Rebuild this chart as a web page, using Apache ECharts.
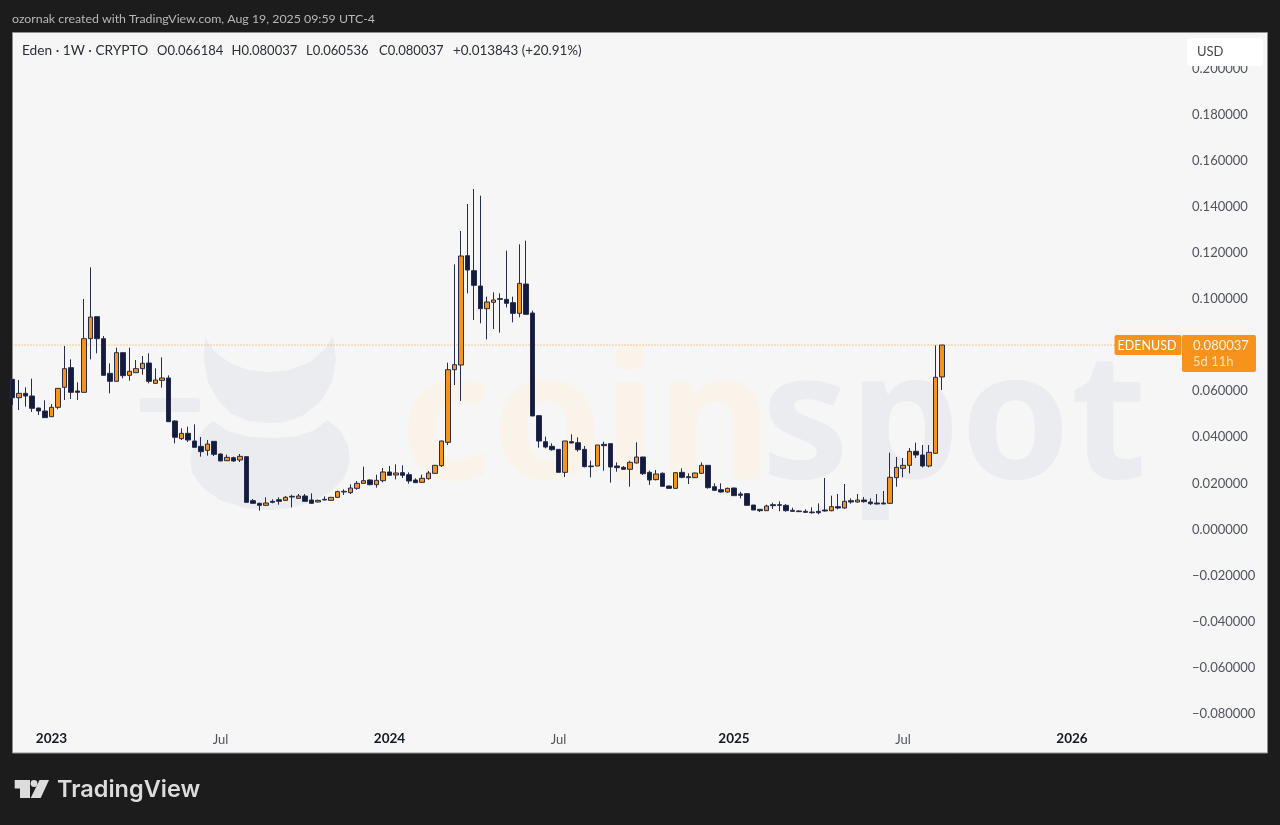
<!DOCTYPE html>
<html>
<head>
<meta charset="utf-8">
<title>Eden 1W</title>
<script src="https://cdn.jsdelivr.net/npm/echarts@6/dist/echarts.min.js"></script>
<style>
html, body { margin: 0; padding: 0; background: #1c1c1c; }
#chart { width: 1280px; height: 825px; }
</style>
</head>
<body>
<div id="chart"></div>
<script>
// weekly candles. first week starts 2022-11-21, last is 2025-08-18
var FIRST_WEEK = Date.UTC(2022, 10, 21);
var WEEK_MS = 7 * 24 * 3600 * 1000;
var TOTAL_WEEKS = 181; // includes the empty weeks right of the last candle

var openPrices = [
    .06515, .05719, .05907, .05792, .05271, .05141, .04895, .053, .06168, .07021,
    .06009, .05951, .08279, .09233, .08279, .06775, .06428, .07672, .06688, .06804,
    .06978, .07223, .06341, .06471, .06573, .04707, .03941, .04172, .03839, .03608,
    .03434, .03825, .03275, .02986, .03116, .03015, .0316, .01251, .01135, .01048,
    .01222, .01294, .01265, .01439, .01352, .01453, .0128, .01193, .01309, .01265,
    .01396, .01656, .01598, .01786, .02003, .02147, .01945, .02119, .02495, .02364,
    .02466, .02379, .02147, .02046, .02205, .02437, .02769, .03782, .06934, .07136,
    .1188, .11229, .10564, .0958, .09855, .10014, .09985, .09841, .09378, .1065,
    .09392, .04938, .0381, .03608, .03478, .0248, .0381, .03767, .03478, .02755,
    .02755, .03695, .03724, .02755, .02697, .0261, .02885, .03145, .0248, .02162,
    .02437, .01887, .01786, .0248, .02292, .02249, .02437, .02784, .01858, .01728,
    .01627, .018, .0154, .01555, .01063, .00875, .00817, .01077, .01077, .01048,
    .00832, .00803, .00788, .00759, .00788, .00846, .00817, .00991, .00933, .01251,
    .01193, .0128, .01193, .0115, .0115, .01135, .02249, .02654, .02784, .03391,
    .03232, .02755, .03304, .066184
];
var closePrices = [
    .05719, .05907, .05792, .05257, .05141, .04852, .053, .06124, .06978, .05951,
    .05951, .08279, .09219, .08279, .06688, .06428, .07672, .06674, .06862, .06978,
    .07209, .06428, .06486, .06573, .04678, .03999, .04172, .03883, .03565, .03377,
    .03709, .03261, .02972, .03131, .02972, .03174, .01179, .01135, .01048, .0115,
    .01179, .01222, .01396, .0141, .01453, .01222, .01135, .01265, .0128, .01396,
    .01641, .01627, .018, .02003, .02119, .01945, .02133, .02495, .0235, .02451,
    .0235, .02104, .02032, .0222, .02451, .02784, .03839, .06934, .07151, .11865,
    .11258, .10593, .0958, .0987, .09956, .09985, .09812, .09378, .10679, .09335,
    .04924, .03839, .03579, .03463, .0248, .03839, .03753, .03463, .02726, .02726,
    .03666, .03637, .02712, .02683, .0261, .02914, .03145, .02422, .02147, .02408,
    .01873, .01786, .02466, .02263, .02249, .02451, .02784, .01815, .01699, .01627,
    .01786, .01468, .01482, .01048, .00846, .00817, .0102, .01034, .01048, .00817,
    .00788, .00774, .00745, .0073, .0073, .00803, .00991, .00933, .01222, .01193,
    .0128, .01208, .01121, .01106, .01106, .02263, .02697, .02784, .03391, .03232,
    .02755, .03348, .06602, .080037
];
var lowPrices = [
    .05401, .05184, .05329, .05098, .04967, .04852, .04895, .05213, .05618, .05661,
    .05618, .05951, .07382, .07643, .06688, .05907, .06428, .06558, .06457, .06804,
    .06717, .06341, .06341, .06153, .04678, .03738, .03883, .03796, .03565, .0316,
    .03203, .03189, .02972, .02972, .02943, .02928, .01179, .01135, .00817, .0102,
    .01135, .01077, .01236, .00962, .01323, .01208, .01121, .01179, .01265, .01251,
    .01367, .01497, .0154, .01728, .01988, .01916, .01815, .02046, .02335, .02176,
    .02234, .01988, .02032, .02032, .02162, .02408, .02712, .03666, .06269, .05575,
    .10246, .09089, .08944, .0825, .08698, .08539, .09638, .08987, .09204, .09335,
    .04924, .0355, .03521, .0342, .0248, .02278, .03738, .03377, .02697, .02263,
    .02755, .02552, .02032, .02509, .02596, .01858, .0287, .02364, .01931, .02133,
    .01858, .01757, .01757, .0222, .01974, .02234, .02422, .01771, .0167, .01598,
    .01598, .01453, .01352, .01034, .00846, .00759, .00803, .00889, .00788, .00774,
    .00759, .00774, .00716, .00687, .00658, .00774, .00788, .00875, .00904, .01121,
    .01164, .01164, .01063, .01092, .01106, .01106, .01858, .02263, .02437, .03102,
    .02697, .02697, .03304, .060536
];
var highPrices = [
    .06515, .06486, .06168, .06544, .05286, .05604, .05445, .06124, .07961, .07382,
    .06385, .1, .11374, .09233, .08395, .07209, .07888, .07672, .07888, .07353,
    .07527, .07643, .06992, .07469, .06688, .04736, .04389, .04461, .04562, .04013,
    .03883, .03825, .03304, .03246, .0316, .03275, .0316, .01323, .01164, .01396,
    .01309, .01396, .01453, .01511, .0154, .0154, .01569, .01294, .01439, .0141,
    .01685, .01743, .01959, .02104, .02726, .02176, .02379, .02668, .02755, .02827,
    .02784, .0248, .0222, .02379, .02538, .02798, .03854, .07238, .11504, .1295,
    .14121, .14772, .14483, .10101, .10289, .10246, .12097, .10101, .12371, .1253,
    .09494, .04967, .04027, .03738, .03478, .03839, .04129, .03999, .03622, .02986,
    .03666, .0381, .03738, .02914, .02755, .02986, .03782, .0316, .02552, .02581,
    .0248, .01902, .02495, .02654, .02437, .02466, .02914, .02784, .02003, .02003,
    .01815, .01815, .01641, .01569, .01063, .00889, .01077, .01164, .01222, .01106,
    .00947, .00832, .00875, .00962, .01135, .02234, .01468, .0154, .01974, .01352,
    .0154, .0141, .01352, .0154, .0167, .03333, .03145, .03102, .03536, .03767,
    .03666, .03666, .0799, .080037
];

var priceTicks = [0.18, 0.16, 0.14, 0.12, 0.10, 0.08, 0.06, 0.04, 0.02, 0, -0.02, -0.04, -0.06, -0.08, 0.20];
var timeTicks = { "2023-01-02": "2023", "2023-07-03": "Jul", "2024-01-01": "2024", "2024-07-01": "Jul",
                  "2025-01-06": "2025", "2025-07-07": "Jul", "2026-01-05": "2026" };
var lastPrice = 0.080037;

var TEXT_FONT = 'Lato, "Open Sans", sans-serif';
var UP_COLOR = "#f7931a";
var DOWN_COLOR = "#131c3f";
var WICK_COLOR = "#262c4a";
var WM_GREY = "#ebecef";
var WM_PEACH = "#f9f3ea";

function weekLabels() {
    var list = [];
    for (var i = 0; i < TOTAL_WEEKS; i++) {
        list.push(new Date(FIRST_WEEK + i * WEEK_MS).toISOString().slice(0, 10));
    }
    return list;
}

function candleRows() {
    var rows = [];
    for (var i = 0; i < openPrices.length; i++) {
        rows.push([openPrices[i], closePrices[i], lowPrices[i], highPrices[i]]);
    }
    return rows;
}

function lastPriceLine() {
    var rows = [];
    for (var i = 0; i < TOTAL_WEEKS; i++) {
        rows.push(lastPrice);
    }
    return rows;
}

function priceLabel(v) {
    var s = Math.abs(v).toFixed(6);
    return v < 0 ? "\u2212" + s : s;
}

function txt(str, x, y, size, color, extra) {
    var style = { text: str, fill: color, font: (extra && extra.weight || "400") + " " + size + "px " + (extra && extra.family || TEXT_FONT),
                  textAlign: extra && extra.align || "left", textVerticalAlign: "middle" };
    return { type: "text", x: x, y: y, z: extra && extra.z !== undefined ? extra.z : 20, silent: true, style: style };
}

function box(x, y, w, h, fill, r, z) {
    return { type: "rect", z: z, silent: true, shape: { x: x, y: y, width: w, height: h, r: r }, style: { fill: fill } };
}

function blob(points, fill, z) {
    return { type: "polygon", z: z, silent: true, shape: { points: points }, style: { fill: fill } };
}

var graphics = [
    // panel
    { type: "rect", z: -3, silent: true, shape: { x: 12.5, y: 32.5, width: 1255, height: 720.5 },
      style: { fill: "#f6f6f6", stroke: "#8f8f8f", lineWidth: 1 } },
    // coinspot watermark
    blob([[205, 338], [215, 352], [230, 363], [248, 370], [268, 372], [290, 370], [310, 362], [325, 349], [333, 336], [336, 360],
          [332, 382], [320, 402], [302, 416], [285, 422], [268, 423], [248, 421], [232, 414], [218, 400], [208, 382], [204, 360]], WM_GREY, -2),
    box(140, 398, 60, 14, WM_GREY, 3, -2),
    blob([[190, 457], [195, 442], [205, 428], [213, 421], [228, 431], [250, 437], [275, 438], [297, 436], [315, 430], [327, 420], [340, 430],
          [348, 445], [350, 460], [345, 477], [330, 492], [310, 503], [290, 508], [270, 510], [245, 508], [220, 500], [203, 488], [192, 473]], WM_GREY, -2),
    txt("coin", 400, 428, 178, WM_PEACH, { weight: "700", family: '"Noto Sans", sans-serif', z: -2 }),
    txt("spot", 761, 428, 176, WM_GREY, { weight: "700", family: '"Noto Sans", sans-serif', z: -2 }),
    // header and legend
    txt("ozornak created with TradingView.com, Aug 19, 2025 09:59 UTC-4", 12, 19, 12.35, "#b8b8b8"),
    txt("Eden \u00b7 1W \u00b7 CRYPTO", 22, 50.5, 13.7, "#2a2e39"),
    txt("O0.066184", 157, 50.5, 13, "#2a2e39"),
    txt("H0.080037", 231.5, 50.5, 13, "#2a2e39"),
    txt("L0.060536", 306, 50.5, 13, "#2a2e39"),
    txt("C0.080037", 379, 50.5, 13, "#2a2e39"),
    txt("+0.013843 (+20.91%)", 453, 50.5, 13.4, "#2a2e39"),
    // currency button, sits on top of the clipped 0.2 label
    box(1187, 38, 76, 28, "#ffffff", 4, 30),
    txt("USD", 1197, 51.5, 13, "#4a4a4a", { z: 31 }),
    // last price tags
    box(1114.5, 335, 67, 20, UP_COLOR, 2, 30),
    box(1182, 335, 74, 37, UP_COLOR, 2, 30),
    txt("EDENUSD", 1147, 345.5, 12.5, "#ffffff", { align: "center", z: 31 }),
    txt("0.080037", 1193, 345.5, 13, "#fff3e2", { z: 31 }),
    txt("5d 11h", 1193, 362, 13, "#fde2bf", { z: 31 }),
    // TradingView logo
    blob([[14.7, 780], [30, 780], [30, 798], [20, 798], [20, 788.5], [14.7, 788.5]], "#dcdcdc", 20),
    { type: "circle", z: 20, silent: true, shape: { cx: 34, cy: 783.5, r: 3.4 }, style: { fill: "#dcdcdc" } },
    blob([[39.5, 780], [49, 780], [40.7, 798], [30.7, 798]], "#dcdcdc", 20),
    txt("TradingView", 57, 790, 23.5, "#dcdcdc", { weight: "600", family: "Inter, sans-serif" })
];

var option = {
    animation: false,
    backgroundColor: "#1c1c1c",
    grid: { left: 12.5, top: 33, width: 1170, height: 720 },
    xAxis: {
        type: "category",
        data: weekLabels(),
        boundaryGap: false,
        axisLine: { show: false },
        axisTick: { show: false },
        splitLine: { show: false },
        axisLabel: {
            inside: true,
            margin: 7,
            interval: function (i, name) { return timeTicks[name] !== undefined; },
            formatter: function (name) {
                var t = timeTicks[name];
                return t === "Jul" ? t : "{year|" + t + "}";
            },
            color: "#50535e",
            fontFamily: TEXT_FONT,
            fontSize: 13,
            rich: { year: { color: "#131722", fontFamily: TEXT_FONT, fontSize: 13.5, fontWeight: 700 } }
        }
    },
    yAxis: {
        type: "value",
        position: "right",
        min: -0.09696,
        max: 0.2154,
        axisLine: { show: false },
        axisTick: { show: false },
        splitLine: { show: false },
        axisLabel: {
            customValues: priceTicks,
            formatter: priceLabel,
            margin: 9.5,
            align: "left",
            padding: [3, 0, 0, 0],
            color: "#50535e",
            fontFamily: TEXT_FONT,
            fontSize: 13
        }
    },
    series: [{
        // dotted last price line
        type: "line",
        z: 1,
        silent: true,
        showSymbol: false,
        data: lastPriceLine(),
        lineStyle: { color: UP_COLOR, type: [1, 2], width: 1, opacity: 0.9 }
    }, {
        type: "candlestick",
        z: 2,
        data: candleRows(),
        barWidth: 4.6,
        itemStyle: {
            color: UP_COLOR,
            color0: DOWN_COLOR,
            borderColor: WICK_COLOR,
            borderColor0: WICK_COLOR,
            borderColorDoji: WICK_COLOR,
            borderWidth: 1
        }
    }],
    graphic: graphics
};

var myChart = echarts.init(document.getElementById("chart"), null, { renderer: "canvas" });
myChart.setOption(option);
</script>
</body>
</html>
